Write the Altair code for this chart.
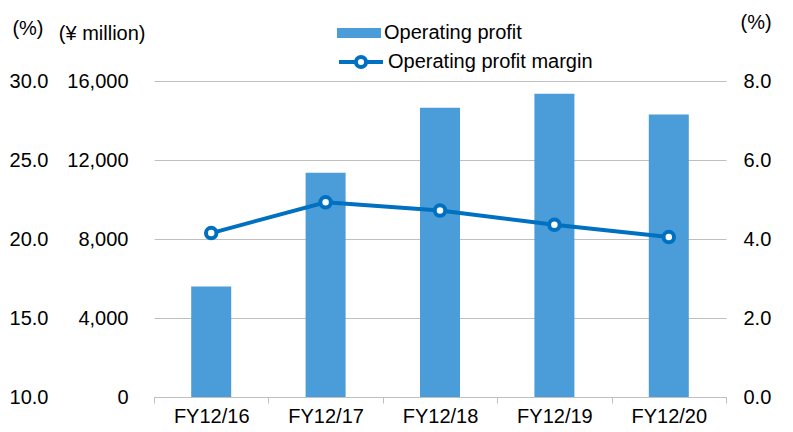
import altair as alt
import pandas as pd

years = ["FY12/16", "FY12/17", "FY12/18", "FY12/19", "FY12/20"]
profit = [5600, 11350, 14650, 15350, 14300]
margin = [4.15, 4.93, 4.72, 4.36, 4.05]
profit_ticks = [0, 4000, 8000, 12000, 16000]
margin_ticks = [0, 2, 4, 6, 8]
pct_ticks = [10, 15, 20, 25, 30]

df = pd.DataFrame({"year": years, "profit": profit, "margin": margin})
tdf = pd.DataFrame({"pct": pct_ticks})

BAR = "#4A9DD8"
LINE = "#0070C0"
GRID = "#BFBFBF"
FONT = "Liberation Sans"
FS = 20

x = alt.X(
    "year:N", sort=years,
    scale=alt.Scale(paddingInner=0, paddingOuter=0),
    axis=alt.Axis(title=None, labelAngle=0, labelFontSize=FS, labelColor="black",
                  domainColor=GRID, tickColor=GRID, tickSize=6, tickBand="extent",
                  labelPadding=3, grid=False),
)

bars = alt.Chart(df).transform_calculate(s="'Operating profit'").mark_bar(size=40).encode(
    x=x,
    y=alt.Y("profit:Q", scale=alt.Scale(domain=[0, 16000], nice=False),
            axis=alt.Axis(values=profit_ticks, format=",.0f", orient="left",
                          title="(¥ million)", titleAngle=0, titleX=-9, titleY=-48,
                          titleAlign="right", titleBaseline="middle", titleFontSize=FS,
                          titleFontWeight="normal", titleColor="black",
                          domain=False, ticks=False, labelPadding=26, grid=True,
                          gridColor=GRID, labelFontSize=FS, labelColor="black")),
    color=alt.Color("s:N", scale=alt.Scale(domain=["Operating profit"], range=[BAR]),
                    legend=alt.Legend(title=None, orient="none", legendX=183, legendY=-70,
                                      symbolType="M-1,-0.23H1V0.23H-1Z", symbolSize=1936,
                                      symbolStrokeWidth=0, labelFontSize=FS, labelLimit=400,
                                      labelColor="black", labelOffset=3, padding=0)),
)

line = alt.Chart(df).transform_calculate(s="'Operating profit margin'").mark_line(
    strokeWidth=4,
    point=alt.OverlayMarkDef(filled=False, fill="white", size=110, strokeWidth=4),
).encode(
    x=x,
    y=alt.Y("margin:Q", scale=alt.Scale(domain=[0, 8], nice=False),
            axis=alt.Axis(values=margin_ticks, format=".1f", orient="right",
                          title="(%)", titleAngle=0, titleX=14, titleY=-59,
                          titleAlign="left", titleBaseline="middle", titleFontSize=FS,
                          titleFontWeight="normal", titleColor="black",
                          domain=False, ticks=False, labelPadding=17, grid=False,
                          labelFontSize=FS, labelColor="black")),
    stroke=alt.Stroke("s:N", scale=alt.Scale(domain=["Operating profit margin"], range=[LINE]),
                      legend=alt.Legend(title=None, orient="none", legendX=183, legendY=-43,
                                        symbolType="M-1,0H-0.23M0.23,0H1M-0.23,0A0.23,0.23 0 1,1 0.23,0A0.23,0.23 0 1,1 -0.23,0Z",
                                        symbolSize=1936, symbolStrokeWidth=4,
                                        symbolFillColor="white", symbolStrokeColor=LINE,
                                        labelFontSize=FS, labelColor="black", labelLimit=400,
                                        labelOffset=3, padding=0)),
)

pct = alt.Chart(tdf).mark_point(opacity=0).encode(
    y=alt.Y("pct:Q", scale=alt.Scale(domain=[10, 30], nice=False),
            axis=alt.Axis(values=pct_ticks, format=".1f", orient="left",
                          title="(%)", titleAngle=0, titleX=-111, titleY=-53,
                          titleAlign="right", titleBaseline="middle", titleFontSize=FS,
                          titleFontWeight="normal", titleColor="black",
                          domain=False, ticks=False, labelPadding=106, grid=False,
                          labelFontSize=FS, labelColor="black")),
)

chart = alt.layer(bars, line, pct).resolve_scale(
    y="independent"
).properties(
    width=572, height=316,
    autosize=alt.AutoSizeParams(type="none"),
    padding={"left": 146, "top": 73, "right": 59, "bottom": 32},
).configure(font=FONT).configure_view(stroke=None)

chart.save("out.html", embed_options={"renderer": "svg", "actions": False})
